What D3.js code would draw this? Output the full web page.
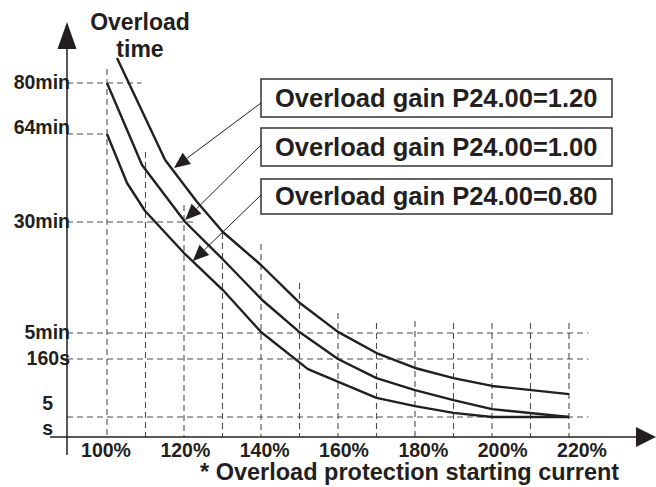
<!DOCTYPE html>
<html>
<head>
<meta charset="utf-8">
<script src="https://cdn.jsdelivr.net/npm/d3@7/dist/d3.min.js"></script>
<style>
    body { margin: 0; background: #fff; }
    text { font-family: "Liberation Sans", Arial, sans-serif; font-weight: bold; fill: #231f20; }
</style>
</head>
<body>
<div id="chart"></div>
<script>
/* current in %, overload time in seconds */
var currentTicks = [100, 120, 140, 160, 180, 200, 220];
var gridCurrents = [100, 110, 120, 130, 140, 150, 160, 170, 180, 190, 200, 210, 220];
var gridTopTime = [5063, 3423, 2194, 1651, 1503, 976, 570, 435, 462, 435, 435, 435, 435];

var timeTicks = [4800, 3840, 1800, 300, 160, 5];
var timeLabels = ["80min", "64min", "30min", "5min", "160s", "5 s"];
var timeGridEnd = [109, 100, 123.4, 225, 225, 225];

var gainLabels = ["Overload gain P24.00=1.20", "Overload gain P24.00=1.00", "Overload gain P24.00=0.80"];

var gain120 = [[102.6, 5270], [115.1, 3237], [123.4, 2264], [130.1, 1665], [140, 1219], [150.1, 705],
    [160, 315], [170, 192], [180, 136], [190, 109], [200, 88], [220, 66]];
var gain100 = [[100, 4800], [109.1, 3121], [120.3, 1800], [130, 1300], [140.3, 746], [150, 313],
    [160, 160], [170, 109], [180, 77], [190, 50], [200, 26], [220, 5]];
var gain080 = [[100, 3840], [105.2, 2704], [109.9, 2055], [120, 1381], [130.1, 881], [140, 313],
    [152.2, 133], [170, 56], [180, 34], [190, 16], [200, 5], [220, 5]];

var arrowTips = [[117.4, 3052], [120.3, 1846], [122.3, 1273]];

render();

function render() {

    var w = 656, h = 487;
    var axisX = 67, axisY = 437;

    var svg = d3.select("#chart").append("svg")
        .attr("width", w)
        .attr("height", h);

    var x = d3.scaleLinear().domain([100, 220]).range([107, 569]);
    var xLabel = d3.scaleLinear().domain([100, 220]).range([106, 582]);
    var y = d3.scaleLinear()
        .domain([0, 5, 160, 300, 1800, 3840, 4800])
        .range([437, 417, 359, 333, 222, 134, 83]);

    var ink = "#231f20";

    /* dashed grid */
    var grid = svg.append("g")
        .attr("stroke", "#4d4d4d")
        .attr("stroke-width", 1.1)
        .attr("stroke-dasharray", "6,4");

    grid.selectAll(".vgrid")
        .data(gridCurrents)
        .enter().append("line")
        .attr("x1", function (d) { return x(d); })
        .attr("x2", function (d) { return x(d); })
        .attr("y1", function (d, i) { return y(gridTopTime[i]); })
        .attr("y2", axisY);

    grid.selectAll(".hgrid")
        .data(timeTicks)
        .enter().append("line")
        .attr("x1", axisX)
        .attr("x2", function (d, i) { return x(timeGridEnd[i]); })
        .attr("y1", function (d) { return y(d); })
        .attr("y2", function (d) { return y(d); });

    /* axes */
    svg.append("line")
        .attr("x1", axisX).attr("x2", axisX)
        .attr("y1", 49).attr("y2", 455)
        .attr("stroke", ink).attr("stroke-width", 1.5);
    svg.append("path")
        .attr("d", "M" + axisX + ",22L" + (axisX - 9.5) + ",49L" + (axisX + 9.5) + ",49Z")
        .attr("fill", ink);

    svg.append("line")
        .attr("x1", 50).attr("x2", 636)
        .attr("y1", axisY).attr("y2", axisY)
        .attr("stroke", ink).attr("stroke-width", 1.5);
    svg.append("path")
        .attr("d", "M656," + axisY + "L636," + (axisY - 10) + "L636," + (axisY + 10) + "Z")
        .attr("fill", ink);

    /* curves */
    var line = d3.line()
        .x(function (d) { return x(d[0]); })
        .y(function (d) { return y(d[1]); });

    svg.selectAll(".curve")
        .data([gain120, gain100, gain080])
        .enter().append("path")
        .attr("class", "curve")
        .attr("d", line)
        .attr("fill", "none")
        .attr("stroke", ink)
        .attr("stroke-width", 2.4)
        .attr("stroke-linejoin", "round");

    /* tick labels */
    svg.selectAll(".xlab")
        .data(currentTicks)
        .enter().append("text")
        .attr("x", function (d) { return xLabel(d); })
        .attr("y", 457)
        .attr("text-anchor", "middle")
        .style("font-size", "19.5px")
        .text(function (d) { return d + "%"; });

    var ylab = svg.selectAll(".ylab")
        .data(timeTicks)
        .enter().append("text")
        .attr("text-anchor", "end")
        .style("font-size", "19.5px");

    ylab.filter(function (d) { return d !== 5; })
        .attr("x", 70)
        .attr("y", function (d) { return y(d); })
        .attr("dy", function (d) { return d === 3840 ? "0" : "0.3em"; })
        .text(function (d, i) { return timeLabels[timeTicks.indexOf(d)]; });

    ylab.filter(function (d) { return d === 5; })
        .selectAll("tspan")
        .data(function (d) { return timeLabels[timeTicks.indexOf(d)].split(" "); })
        .enter().append("tspan")
        .attr("x", 53)
        .attr("y", function (d, i) { return y(5) + (i ? 18 : -7); })
        .text(function (d) { return d; });

    /* titles */
    svg.append("text")
        .attr("x", 140).attr("y", 30)
        .attr("text-anchor", "middle")
        .style("font-size", "23px")
        .text("Overload");
    svg.append("text")
        .attr("x", 140).attr("y", 57)
        .attr("text-anchor", "middle")
        .style("font-size", "23px")
        .text("time");
    svg.append("text")
        .attr("x", 200).attr("y", 480)
        .style("font-size", "23.5px")
        .text("* Overload protection starting current");

    /* gain boxes with arrows */
    var boxTop = [79, 128, 179], boxH = [38, 38, 35], arrowStart = [103, 145, 195];
    var boxX = 261, boxW = 351;

    var box = svg.selectAll(".gain")
        .data(gainLabels)
        .enter().append("g")
        .attr("class", "gain");

    box.append("rect")
        .attr("x", boxX)
        .attr("y", function (d, i) { return boxTop[i]; })
        .attr("width", boxW)
        .attr("height", function (d, i) { return boxH[i]; })
        .attr("fill", "#fff")
        .attr("stroke", "#333")
        .attr("stroke-width", 1.5);

    box.append("text")
        .attr("x", boxX + 14)
        .attr("y", function (d, i) { return boxTop[i] + boxH[i] / 2 + 8.5; })
        .style("font-size", "25.5px")
        .text(function (d) { return d; });

    box.each(function (d, i) {
        var tx = x(arrowTips[i][0]), ty = y(arrowTips[i][1]);
        var sx = boxX, sy = arrowStart[i];
        var dx = sx - tx, dy = sy - ty, len = Math.sqrt(dx * dx + dy * dy);
        var ux = dx / len, uy = dy / len, hl = 16, hw = 7;
        var bx = tx + ux * hl, by = ty + uy * hl;
        var g = d3.select(this);
        g.append("line")
            .attr("x1", sx).attr("y1", sy)
            .attr("x2", bx).attr("y2", by)
            .attr("stroke", ink).attr("stroke-width", 1);
        g.append("path")
            .attr("d", "M" + tx + "," + ty +
                "L" + (bx - uy * hw) + "," + (by + ux * hw) +
                "L" + (bx + uy * hw) + "," + (by - ux * hw) + "Z")
            .attr("fill", ink);
    });
}
</script>
</body>
</html>
